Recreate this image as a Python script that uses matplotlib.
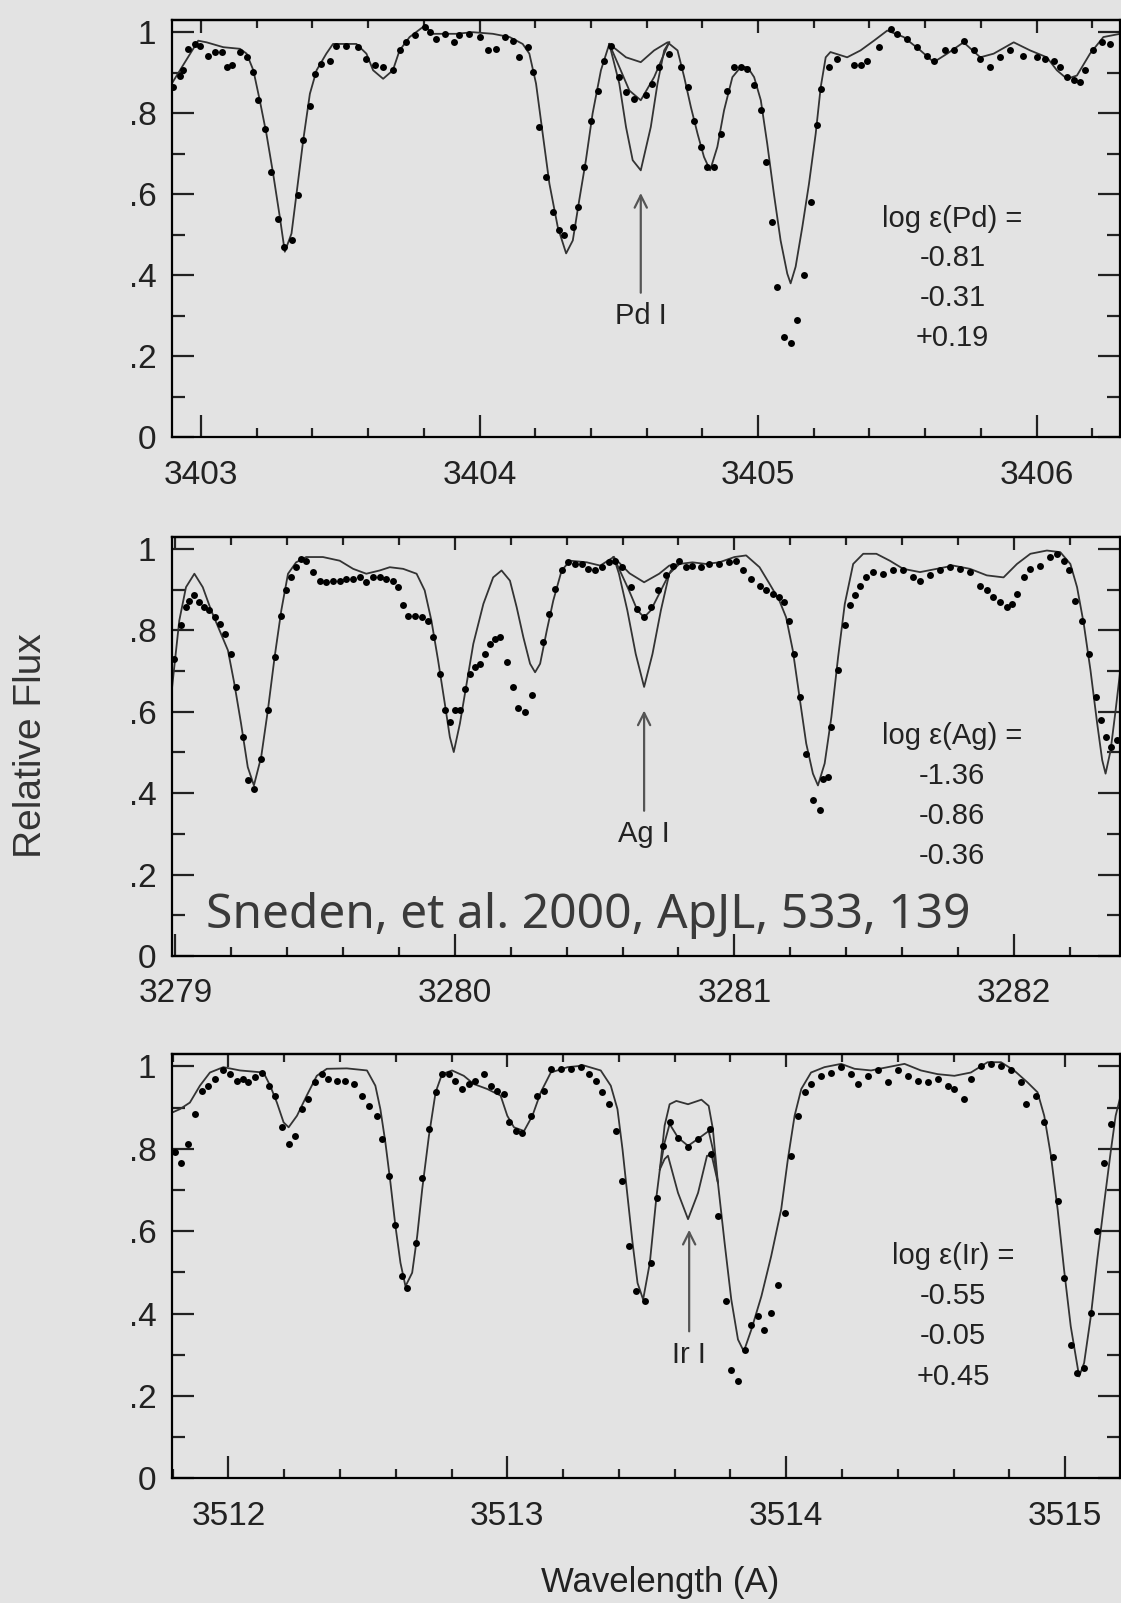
#! /usr/bin/env python3
# Three synthetic-spectrum panels (Pd I, Ag I, Ir I) with observed points
import matplotlib
matplotlib.use('Agg')
import matplotlib.pyplot as plt
from matplotlib.ticker import MultipleLocator, FuncFormatter

plt.rcParams.update({
  'font.family':      ['Liberation Sans', 'DejaVu Sans'],
  'xtick.labelsize':  24,
  'ytick.labelsize':  24,
  'xtick.color':      '#222222',
  'ytick.color':      '#222222',
})
bgcolor = '#e3e3e3'

# ---------------- Pd I panel ----------------
pd_syn = [ # weakest synthesis, (wavelength, flux)
  (3402.895,0.873),(3402.990,0.979),(3403.020,0.975),(3403.080,0.963),(3403.140,0.959),(3403.164,0.947),
  (3403.188,0.906),(3403.211,0.832),(3403.235,0.749),(3403.259,0.651),(3403.283,0.544),(3403.301,0.458),
  (3403.325,0.503),(3403.343,0.601),(3403.367,0.733),(3403.391,0.848),(3403.415,0.906),(3403.450,0.947),
  (3403.474,0.971),(3403.558,0.971),(3403.594,0.947),(3403.618,0.906),(3403.654,0.885),(3403.689,0.906),
  (3403.713,0.955),(3403.749,0.988),(3403.803,1.016),(3403.833,0.996),(3403.916,0.996),(3403.976,1.000),
  (3404.048,0.996),(3404.108,0.988),(3404.155,0.971),(3404.179,0.947),(3404.203,0.873),(3404.227,0.749),
  (3404.251,0.626),(3404.281,0.519),(3404.311,0.454),(3404.335,0.486),(3404.358,0.585),(3404.382,0.684),
  (3404.406,0.799),(3404.436,0.906),(3404.466,0.971),(3404.526,0.938),(3404.579,0.926),(3404.627,0.955),
  (3404.675,0.975),(3404.711,0.955),(3404.735,0.889),(3404.759,0.815),(3404.783,0.749),(3404.806,0.692),
  (3404.828,0.659),(3404.854,0.717),(3404.878,0.807),(3404.908,0.889),(3404.938,0.914),(3404.962,0.914),
  (3404.986,0.889),(3405.010,0.832),(3405.033,0.725),(3405.057,0.601),(3405.081,0.486),(3405.105,0.404),
  (3405.117,0.380),(3405.135,0.421),(3405.159,0.519),(3405.183,0.626),(3405.207,0.749),(3405.225,0.864),
  (3405.243,0.938),(3405.260,0.951),(3405.320,0.938),(3405.368,0.955),(3405.416,0.979),(3405.464,1.004),
  (3405.523,0.988),(3405.583,0.955),(3405.631,0.926),(3405.679,0.947),(3405.738,0.975),(3405.798,0.938),
  (3405.846,0.947),(3405.918,0.975),(3405.977,0.955),(3406.037,0.938),(3406.073,0.906),(3406.109,0.885),
  (3406.145,0.893),(3406.192,0.947),(3406.240,0.988),(3406.300,0.996),
]
pd_syn_mid = [(3404.466,0.971),(3404.502,0.914),(3404.538,0.856),(3404.579,0.832),(3404.627,0.889),
  (3404.663,0.947),(3404.681,0.975)]
pd_syn_strong = [(3404.466,0.971),(3404.502,0.873),(3404.526,0.766),(3404.550,0.684),(3404.579,0.659),
  (3404.615,0.766),(3404.639,0.873),(3404.663,0.955),(3404.681,0.975)]
pd_obs = [
  (3402.901,0.864),(3402.925,0.893),(3402.937,0.906),(3402.955,0.959),(3402.978,0.971),(3402.996,0.967),
  (3403.026,0.942),(3403.050,0.951),(3403.074,0.951),(3403.092,0.914),(3403.110,0.918),(3403.140,0.951),
  (3403.164,0.938),(3403.185,0.901),(3403.205,0.832),(3403.229,0.762),(3403.253,0.655),(3403.277,0.540),
  (3403.297,0.470),(3403.325,0.486),(3403.349,0.597),(3403.367,0.733),(3403.391,0.819),(3403.409,0.897),
  (3403.432,0.922),(3403.462,0.930),(3403.486,0.967),(3403.522,0.967),(3403.564,0.963),(3403.594,0.934),
  (3403.624,0.918),(3403.654,0.914),(3403.689,0.906),(3403.713,0.955),(3403.737,0.975),(3403.767,0.992),
  (3403.803,1.012),(3403.821,1.000),(3403.845,0.984),(3403.875,0.996),(3403.910,0.975),(3403.928,0.992),
  (3403.964,0.996),(3404.000,0.988),(3404.030,0.955),(3404.060,0.959),(3404.090,0.988),(3404.119,0.979),
  (3404.143,0.938),(3404.173,0.963),(3404.191,0.901),(3404.215,0.766),(3404.239,0.643),(3404.263,0.556),
  (3404.287,0.511),(3404.305,0.499),(3404.335,0.519),(3404.352,0.569),(3404.376,0.667),(3404.400,0.782),
  (3404.424,0.856),(3404.448,0.930),(3404.472,0.967),(3404.502,0.889),(3404.526,0.852),(3404.556,0.836),
  (3404.597,0.844),(3404.621,0.873),(3404.645,0.914),(3404.681,0.947),(3404.723,0.914),(3404.747,0.864),
  (3404.771,0.782),(3404.795,0.717),(3404.818,0.667),(3404.842,0.667),(3404.866,0.749),(3404.890,0.856),
  (3404.914,0.914),(3404.938,0.914),(3404.962,0.910),(3404.986,0.869),(3405.010,0.807),(3405.027,0.680),
  (3405.051,0.532),(3405.069,0.371),(3405.093,0.248),(3405.117,0.232),(3405.141,0.289),(3405.165,0.400),
  (3405.189,0.581),(3405.213,0.770),(3405.225,0.860),(3405.254,0.914),(3405.284,0.934),(3405.344,0.918),
  (3405.368,0.918),(3405.392,0.930),(3405.434,0.963),(3405.476,1.008),(3405.499,0.996),(3405.535,0.984),
  (3405.571,0.963),(3405.607,0.942),(3405.631,0.930),(3405.673,0.955),(3405.703,0.955),(3405.738,0.979),
  (3405.774,0.955),(3405.798,0.934),(3405.834,0.914),(3405.870,0.938),(3405.906,0.955),(3405.953,0.942),
  (3406.001,0.938),(3406.031,0.934),(3406.061,0.930),(3406.084,0.914),(3406.109,0.889),(3406.133,0.881),
  (3406.157,0.877),(3406.174,0.906),(3406.204,0.955),(3406.234,0.975),(3406.264,0.971),
]
pd_abund = ["log \u03b5(Pd) =", "-0.81", "-0.31", "+0.19"]

# ---------------- Ag I panel ----------------
ag_syn = [
  (3278.987,0.652),(3279.014,0.824),(3279.038,0.906),(3279.068,0.939),(3279.098,0.906),(3279.128,0.849),
  (3279.158,0.800),(3279.188,0.751),(3279.211,0.669),(3279.235,0.571),(3279.259,0.464),(3279.281,0.419),
  (3279.307,0.489),(3279.331,0.604),(3279.355,0.734),(3279.379,0.849),(3279.403,0.939),(3279.432,0.967),
  (3279.468,0.980),(3279.528,0.980),(3279.588,0.971),(3279.636,0.951),(3279.683,0.939),(3279.731,0.947),
  (3279.767,0.955),(3279.815,0.951),(3279.863,0.939),(3279.892,0.898),(3279.916,0.824),(3279.940,0.726),
  (3279.964,0.620),(3279.982,0.538),(3279.996,0.501),(3280.018,0.571),(3280.042,0.669),(3280.066,0.767),
  (3280.102,0.865),(3280.137,0.930),(3280.167,0.947),(3280.197,0.922),(3280.221,0.857),(3280.245,0.783),
  (3280.269,0.718),(3280.287,0.697),(3280.305,0.718),(3280.329,0.800),(3280.352,0.873),(3280.382,0.947),
  (3280.412,0.971),(3280.472,0.967),(3280.520,0.959),(3280.568,0.980),(3280.625,0.940),(3280.677,0.918),
  (3280.731,0.939),(3280.767,0.959),(3280.803,0.963),(3280.850,0.967),(3280.898,0.963),(3280.946,0.967),
  (3281.000,0.980),(3281.042,0.984),(3281.090,0.955),(3281.126,0.914),(3281.161,0.873),(3281.185,0.832),
  (3281.209,0.751),(3281.233,0.636),(3281.257,0.522),(3281.281,0.448),(3281.299,0.419),(3281.323,0.473),
  (3281.347,0.587),(3281.371,0.734),(3281.395,0.865),(3281.425,0.963),(3281.461,0.988),(3281.508,0.988),
  (3281.556,0.971),(3281.604,0.951),(3281.664,0.943),(3281.724,0.951),(3281.783,0.959),(3281.843,0.951),
  (3281.903,0.935),(3281.963,0.930),(3282.011,0.963),(3282.059,0.988),(3282.118,0.996),(3282.166,0.992),
  (3282.202,0.963),(3282.226,0.906),(3282.250,0.816),(3282.274,0.702),(3282.298,0.571),(3282.316,0.481),
  (3282.328,0.448),(3282.346,0.505),(3282.364,0.604),(3282.382,0.710),
]
ag_syn_mid = [(3280.568,0.980),(3280.623,0.898),(3280.653,0.849),(3280.677,0.832),(3280.701,0.849),
  (3280.737,0.898),(3280.773,0.947),(3280.803,0.963)]
ag_syn_strong = [(3280.568,0.980),(3280.587,0.939),(3280.617,0.849),(3280.647,0.742),(3280.677,0.661),
  (3280.707,0.742),(3280.737,0.849),(3280.767,0.939),(3280.803,0.963)]
ag_obs = [
  (3278.996,0.730),(3279.020,0.812),(3279.038,0.857),(3279.050,0.873),(3279.068,0.886),(3279.086,0.869),
  (3279.104,0.857),(3279.122,0.849),(3279.140,0.832),(3279.158,0.816),(3279.176,0.791),(3279.200,0.742),
  (3279.217,0.661),(3279.241,0.538),(3279.259,0.432),(3279.283,0.411),(3279.307,0.485),(3279.331,0.604),
  (3279.355,0.734),(3279.379,0.836),(3279.397,0.898),(3279.415,0.930),(3279.432,0.955),(3279.450,0.975),
  (3279.468,0.971),(3279.492,0.943),(3279.516,0.922),(3279.540,0.918),(3279.564,0.922),(3279.588,0.922),
  (3279.612,0.926),(3279.636,0.926),(3279.659,0.930),(3279.683,0.918),(3279.707,0.930),(3279.731,0.930),
  (3279.755,0.926),(3279.779,0.922),(3279.797,0.906),(3279.815,0.861),(3279.833,0.836),(3279.857,0.836),
  (3279.881,0.832),(3279.904,0.824),(3279.922,0.783),(3279.946,0.693),(3279.964,0.604),(3279.982,0.575),
  (3280.000,0.604),(3280.018,0.604),(3280.036,0.657),(3280.054,0.693),(3280.072,0.710),(3280.090,0.718),
  (3280.108,0.742),(3280.125,0.767),(3280.143,0.779),(3280.161,0.783),(3280.185,0.722),(3280.209,0.661),
  (3280.227,0.608),(3280.251,0.599),(3280.275,0.640),(3280.317,0.771),(3280.335,0.841),(3280.358,0.902),
  (3280.382,0.947),(3280.406,0.967),(3280.430,0.963),(3280.454,0.963),(3280.478,0.951),(3280.502,0.947),
  (3280.526,0.955),(3280.550,0.967),(3280.573,0.971),(3280.597,0.955),(3280.629,0.906),(3280.653,0.853),
  (3280.677,0.832),(3280.701,0.857),(3280.725,0.898),(3280.755,0.935),(3280.779,0.959),(3280.803,0.971),
  (3280.827,0.955),(3280.850,0.959),(3280.880,0.955),(3280.910,0.963),(3280.946,0.963),(3280.982,0.967),
  (3281.006,0.971),(3281.030,0.947),(3281.060,0.926),(3281.090,0.910),(3281.114,0.898),(3281.138,0.890),
  (3281.161,0.881),(3281.179,0.869),(3281.197,0.824),(3281.215,0.742),(3281.233,0.636),(3281.257,0.497),
  (3281.281,0.383),(3281.305,0.358),(3281.317,0.436),(3281.335,0.440),(3281.347,0.563),(3281.371,0.702),
  (3281.395,0.812),(3281.413,0.861),(3281.431,0.886),(3281.449,0.910),(3281.472,0.930),(3281.496,0.943),
  (3281.532,0.939),(3281.568,0.947),(3281.604,0.947),(3281.640,0.930),(3281.664,0.922),(3281.700,0.935),
  (3281.736,0.947),(3281.772,0.955),(3281.807,0.951),(3281.843,0.943),(3281.879,0.910),(3281.903,0.898),
  (3281.927,0.881),(3281.951,0.869),(3281.975,0.857),(3281.993,0.865),(3282.011,0.890),(3282.035,0.930),
  (3282.059,0.951),(3282.094,0.959),(3282.130,0.980),(3282.154,0.988),(3282.178,0.971),(3282.196,0.947),
  (3282.220,0.873),(3282.244,0.824),(3282.268,0.742),(3282.292,0.636),(3282.310,0.579),(3282.328,0.538),
  (3282.346,0.513),(3282.370,0.530),
]
ag_abund = ["log \u03b5(Ag) =", "-1.36", "-0.86", "-0.36"]

# ---------------- Ir I panel ----------------
ir_syn = [
  (3511.799,0.888),(3511.826,0.896),(3511.862,0.912),(3511.898,0.953),(3511.934,0.985),(3511.982,0.998),
  (3512.042,0.990),(3512.126,0.985),(3512.150,0.953),(3512.174,0.912),(3512.198,0.864),(3512.216,0.852),
  (3512.246,0.880),(3512.281,0.929),(3512.317,0.977),(3512.353,0.994),(3512.425,0.995),(3512.497,0.990),
  (3512.527,0.953),(3512.545,0.896),(3512.563,0.815),(3512.581,0.718),(3512.599,0.612),(3512.617,0.523),
  (3512.635,0.466),(3512.659,0.499),(3512.677,0.588),(3512.695,0.702),(3512.719,0.831),(3512.743,0.937),
  (3512.766,0.981),(3512.802,0.990),(3512.844,0.977),(3512.880,0.957),(3512.928,0.945),(3512.976,0.929),
  (3513.000,0.880),(3513.024,0.852),(3513.060,0.843),(3513.090,0.880),(3513.120,0.937),(3513.156,0.985),
  (3513.216,0.998),(3513.275,1.002),(3513.335,0.990),(3513.371,0.953),(3513.395,0.896),(3513.413,0.799),
  (3513.431,0.685),(3513.449,0.572),(3513.467,0.474),(3513.487,0.434),(3513.511,0.523),(3513.535,0.685),
  (3513.547,0.750),(3513.564,0.856),(3513.582,0.908),(3513.606,0.916),(3513.648,0.908),(3513.696,0.919),
  (3513.722,0.904),(3513.737,0.848),(3513.755,0.718),(3513.779,0.572),(3513.803,0.434),(3513.827,0.337),
  (3513.848,0.308),(3513.875,0.361),(3513.911,0.442),(3513.946,0.539),(3513.982,0.653),(3514.006,0.775),
  (3514.030,0.880),(3514.054,0.945),(3514.089,0.985),(3514.137,0.998),(3514.197,1.006),(3514.245,0.994),
  (3514.304,0.990),(3514.364,0.998),(3514.424,1.006),(3514.483,0.990),(3514.543,0.981),(3514.603,0.977),
  (3514.662,0.985),(3514.722,1.010),(3514.770,1.010),(3514.817,0.990),(3514.865,0.961),(3514.901,0.937),
  (3514.925,0.880),(3514.949,0.783),(3514.973,0.653),(3514.996,0.507),(3515.020,0.369),(3515.044,0.272),
  (3515.050,0.247),(3515.068,0.280),(3515.092,0.393),(3515.115,0.531),(3515.140,0.669),(3515.163,0.791),
  (3515.181,0.880),(3515.199,0.929),
]
ir_syn_mid = [(3513.547,0.750),(3513.564,0.815),(3513.582,0.860),(3513.612,0.827),(3513.648,0.807),
  (3513.690,0.827),(3513.722,0.843),(3513.737,0.799),(3513.755,0.718)]
ir_syn_strong = [(3513.547,0.750),(3513.564,0.775),(3513.576,0.783),(3513.612,0.693),(3513.648,0.629),
  (3513.684,0.693),(3513.716,0.783),(3513.733,0.783),(3513.755,0.718)]
ir_obs = [
  (3511.808,0.791),(3511.832,0.766),(3511.856,0.811),(3511.880,0.884),(3511.904,0.941),(3511.928,0.953),
  (3511.952,0.969),(3511.982,0.990),(3512.006,0.981),(3512.030,0.965),(3512.054,0.969),(3512.072,0.961),
  (3512.096,0.973),(3512.120,0.985),(3512.144,0.953),(3512.168,0.929),(3512.192,0.852),(3512.216,0.811),
  (3512.240,0.831),(3512.263,0.896),(3512.287,0.921),(3512.311,0.961),(3512.335,0.981),(3512.359,0.969),
  (3512.389,0.965),(3512.419,0.965),(3512.449,0.957),(3512.479,0.929),(3512.503,0.904),(3512.533,0.880),
  (3512.551,0.823),(3512.575,0.734),(3512.599,0.616),(3512.623,0.491),(3512.641,0.462),(3512.671,0.572),
  (3512.695,0.730),(3512.719,0.848),(3512.743,0.937),(3512.766,0.981),(3512.790,0.981),(3512.814,0.965),
  (3512.838,0.945),(3512.862,0.957),(3512.886,0.965),(3512.916,0.981),(3512.940,0.953),(3512.964,0.941),
  (3512.988,0.933),(3513.006,0.864),(3513.030,0.843),(3513.054,0.839),(3513.084,0.880),(3513.108,0.929),
  (3513.132,0.941),(3513.156,0.994),(3513.192,0.994),(3513.228,0.994),(3513.263,0.998),(3513.293,0.981),
  (3513.317,0.965),(3513.341,0.937),(3513.365,0.908),(3513.389,0.843),(3513.413,0.722),(3513.437,0.564),
  (3513.461,0.454),(3513.493,0.430),(3513.517,0.523),(3513.535,0.681),(3513.558,0.807),(3513.582,0.864),
  (3513.612,0.827),(3513.648,0.803),(3513.684,0.823),(3513.726,0.848),(3513.732,0.787),(3513.755,0.637),
  (3513.785,0.430),(3513.803,0.264),(3513.827,0.235),(3513.851,0.312),(3513.875,0.373),(3513.899,0.393),
  (3513.922,0.361),(3513.946,0.401),(3513.970,0.470),(3513.994,0.645),(3514.018,0.783),(3514.042,0.880),
  (3514.066,0.937),(3514.089,0.957),(3514.125,0.977),(3514.161,0.985),(3514.197,0.998),(3514.233,0.981),
  (3514.257,0.957),(3514.292,0.977),(3514.328,0.990),(3514.364,0.961),(3514.400,0.990),(3514.436,0.977),
  (3514.471,0.965),(3514.507,0.961),(3514.543,0.969),(3514.579,0.953),(3514.603,0.945),(3514.638,0.921),
  (3514.662,0.969),(3514.698,1.002),(3514.734,1.006),(3514.770,1.002),(3514.805,0.990),(3514.841,0.961),
  (3514.859,0.908),(3514.895,0.929),(3514.925,0.864),(3514.955,0.779),(3514.973,0.673),(3514.996,0.487),
  (3515.020,0.324),(3515.044,0.255),(3515.068,0.268),(3515.092,0.401),(3515.115,0.600),(3515.140,0.766),
  (3515.163,0.860),
]
ir_abund = ["log \u03b5(Ir) =", "-0.55", "-0.05", "+0.45"]


def yfmt(v, pos):
  """Tick labels like '0', '.2', ..., '1'."""
  if abs(v) < 1e-6:
    return '0'
  if abs(v-1) < 1e-6:
    return '1'
  return ('%.1f' % v)[1:]


def drawpanel(ax, xlim, syn, mid, strong, obs, abund, abx, ion, ionx):
  """Draw one panel."""
  ax.set_facecolor('none')
  for curve in (syn, mid, strong):
    w, f = zip(*curve)
    ax.plot(w, f, color='#333333', lw=1.3, zorder=2)
  w, f = zip(*obs)
  ax.plot(w, f, 'o', color='black', ms=5.0, mec='none', zorder=3)
  
  # arrow and ion label
  ax.annotate('', xy=(ionx, 0.61), xytext=(ionx, 0.35),
              arrowprops=dict(arrowstyle='->', color='#555555', lw=1.6, mutation_scale=22))
  ax.text(ionx, 0.30, ion, ha='center', va='center', fontsize=21, color='#222222')
  
  # abundances
  for txt, y in zip(abund, [0.540, 0.443, 0.345, 0.246]):
    ax.text(abx, y, txt, ha='center', va='center', fontsize=21, color='#222222')
  
  # axes settings
  ax.set_xlim(*xlim)
  ax.set_ylim(0, 1.03)
  ax.xaxis.set_major_locator(MultipleLocator(1))
  ax.xaxis.set_minor_locator(MultipleLocator(0.2))
  ax.yaxis.set_major_locator(MultipleLocator(0.2))
  ax.yaxis.set_minor_locator(MultipleLocator(0.1))
  ax.yaxis.set_major_formatter(FuncFormatter(yfmt))
  ax.tick_params(axis='x', which='major', direction='in', length=16, width=1.6, pad=16)
  ax.tick_params(axis='x', which='minor', direction='in', length=6.5, width=1.6)
  ax.tick_params(axis='y', which='both', direction='in', left=True, right=True, width=1.6)
  ax.tick_params(axis='y', which='major', length=15.5, pad=11)
  ax.tick_params(axis='y', which='minor', length=9.5)
  for sp in ax.spines.values():
    sp.set_linewidth(1.6)
    sp.set_color('black')
  
  # shorter ticks on the top edge
  top = ax.secondary_xaxis('top')
  top.xaxis.set_major_locator(MultipleLocator(1))
  top.xaxis.set_minor_locator(MultipleLocator(0.2))
  top.tick_params(which='major', direction='in', length=9.5, width=1.6, labeltop=False)
  top.tick_params(which='minor', direction='in', length=6, width=1.6)
  top.spines['top'].set_linewidth(1.6)


fig = plt.figure(figsize=(11.21, 16.03), dpi=100, facecolor=bgcolor)
ax1 = fig.add_axes([0.1532, 0.7272, 0.8460, 0.2603])
ax2 = fig.add_axes([0.1532, 0.4036, 0.8460, 0.2616])
ax3 = fig.add_axes([0.1532, 0.0778, 0.8460, 0.2647])

drawpanel(ax1, (3402.895, 3406.300), pd_syn, pd_syn_mid, pd_syn_strong, pd_obs,
          pd_abund, 3405.698, 'Pd I', 3404.579)
drawpanel(ax2, (3278.987, 3282.380), ag_syn, ag_syn_mid, ag_syn_strong, ag_obs,
          ag_abund, 3281.778, 'Ag I', 3280.677)
drawpanel(ax3, (3511.797, 3515.197), ir_syn, ir_syn_mid, ir_syn_strong, ir_obs,
          ir_abund, 3514.599, 'Ir I', 3513.652)

ax2.text(3279.110, 0.069, "Sneden, et al. 2000, ApJL, 533, 139", family='Noto Sans',
         fontsize=34.5, color='#3a3a3a', ha='left', va='baseline', zorder=5)

fig.text(0.0277, 0.535, "Relative Flux", rotation=90, ha='center', va='center',
         fontsize=28, color='#333333')
fig.text(0.589, 0.0131, "Wavelength (A)", ha='center', va='center',
         fontsize=25, color='#222222')

plt.savefig('out.png', dpi=100, facecolor=bgcolor)
